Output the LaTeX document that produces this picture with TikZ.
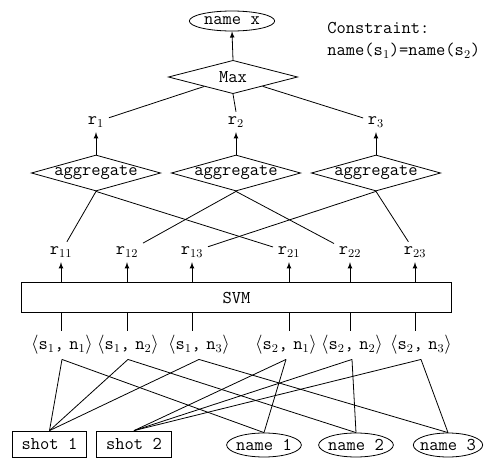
\documentclass[tikz,border=0pt]{standalone}
\usepackage{amsmath}
\usepackage{amssymb}
\usepackage{tikz}
\usetikzlibrary{shapes.geometric}

\newcommand{\pairlab}[2]{$\langle$s$_{#1}$,\hspace{0.3em}n$_{#2}\rangle$}

\tikzset{
  dia/.style={diamond, draw, inner xsep=-40pt, inner ysep=-8pt,
    minimum width=97pt, minimum height=27pt},
  oval/.style={ellipse, draw, inner xsep=-22pt, inner ysep=-6pt,
    minimum width=56pt, minimum height=18pt},
  box/.style={rectangle, draw, minimum width=56pt, minimum height=19.5pt}
}

\begin{document}
\begin{tikzpicture}[x=0.75pt, y=-0.75pt, line width=0.6pt, >=latex,
    font=\fontsize{13.5}{16.5}\selectfont\ttfamily]
    \useasboundingbox (0,0) rectangle (487,461);

    % top part
    \node[oval, minimum width=64pt, minimum height=15pt] (namex) at (232,21) {name x};
    \node[dia, minimum height=25pt] (max) at (233,77) {Max};
    \node[align=left, anchor=north west, inner sep=0pt] (constr) at (327,22)
      {Constraint:\\name(s$_1$)=name(s$_2$)};
    \draw[->] (max.north) -- (namex.south);

    % r_1, r_2, r_3 and the aggregate diamonds
    \foreach \x/\i in {96/1,236/2,376/3} {
      \node (r\i) at (\x,122) {r$_{\i}$};
      \node[dia] (agg\i) at (\x,173) {aggregate};
      \draw[->] (agg\i.north) -- (r\i.south);
    }
    \draw (max) -- (r1);
    \draw (max.south) -- (r2.north);
    \draw (max) -- (r3);

    % r_ij
    \foreach \x/\n in {61/11,127/12,192/13,289/21,350/22,415/23}
      \node (r\n) at (\x,252) {r$_{\n}$};
    \draw (agg1.south) -- (r11);
    \draw (agg1.south) -- (r21);
    \draw (agg2.south) -- (r12);
    \draw (agg2.south) -- (r22);
    \draw (agg3.south) -- (r13);
    \draw (agg3.south) -- (r23);

    % SVM
    \node[rectangle, draw, minimum width=322pt, minimum height=23pt] (svm) at (236.5,297.5) {SVM};

    % pairs
    \foreach \x/\s/\k in {62/1/1,128/1/2,199/1/3,286/2/1,352/2/2,421/2/3}
      \node (p\s\k) at (\x,345) {\pairlab{\s}{\k}};
    \foreach \n in {11,12,13,21,22,23} {
      \draw[->] (r\n |- svm.north) -- (r\n.south);
      \draw (r\n |- svm.south) -- (r\n |- p\n.north);
    }

    % shots and names
    \node[box] (shot1) at (49.5,444) {shot 1};
    \node[box] (shot2) at (134,444) {shot 2};
    \node[oval] (name1) at (264,445) {name 1};
    \node[oval] (name2) at (356,445) {name 2};
    \node[oval, minimum width=52pt] (name3) at (448,445) {name 3};
    \foreach \k in {1,2,3} {
      \draw (p1\k.south) -- (shot1.north);
      \draw (p2\k.south) -- (shot2.north);
      \draw (p1\k.south) -- (name\k.north);
      \draw (p2\k.south) -- (name\k.north);
    }
\end{tikzpicture}
\end{document}
